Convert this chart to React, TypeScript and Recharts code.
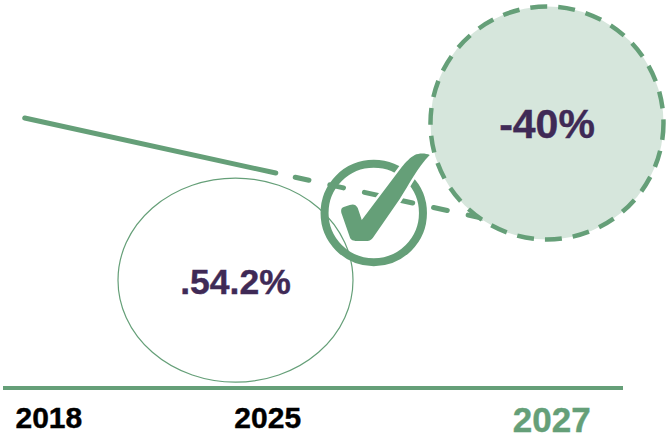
import React from "react";
import { ComposedChart, Line, Scatter, XAxis, YAxis } from "recharts";

const GREEN = "#659f78";
const PURPLE = "#3f2a56";
const PALE = "#d6e6dc";

// Timeline positions are on a 0-100 axis: the years are not evenly spaced.
const yearLabels = ["2018", "2025", "2027"];
const yearSlots = [7.4, 42.7, 88.5];

const actualSlots = [3.5, 44.0];
const actualValues = [69.6, 55.4];
const projectedSlots = [44.0, 77.8];
const projectedValues = [55.4, 43.6];

const actualTrend = actualSlots.map((t, i) => ({ t, v: actualValues[i] }));
const projectedTrend = projectedSlots.map((t, i) => ({ t, v: projectedValues[i] }));

const baseBubble = [{ t: 37.5, v: 27.8, label: ".54.2%" }];
const targetBubble = [{ t: 87.74, v: 68.3, label: "-40%" }];
const checkBadge = [{ t: 59.8, v: 45.1 }];

const FONT = '"Liberation Sans", Arial, sans-serif';

const BaseShape = (p: any) => (
  <g>
    <ellipse cx={p.cx} cy={p.cy} rx={117.5} ry={102} fill="none" stroke={GREEN} strokeWidth={1.2} />
    <text
      x={p.cx}
      y={p.cy + 14}
      textAnchor="middle"
      fontFamily={FONT}
      fontWeight={700}
      fontSize={35.5}
      fill={PURPLE}
      stroke={PURPLE}
      strokeWidth={0.4}
    >
      {p.payload.label}
    </text>
  </g>
);

const TargetShape = (p: any) => (
  <g>
    <circle cx={p.cx} cy={p.cy} r={116.5} fill={PALE} stroke={GREEN} strokeWidth={4.5} strokeDasharray="17 11" />
    <text
      x={p.cx}
      y={p.cy + 15}
      textAnchor="middle"
      fontFamily={FONT}
      fontWeight={700}
      fontSize={41}
      fill={PURPLE}
      stroke={PURPLE}
      strokeWidth={0.4}
    >
      {p.payload.label}
    </text>
  </g>
);

const CheckShape = (p: any) => (
  <g transform={`translate(${p.cx},${p.cy})`}>
    <circle r={49.2} fill="none" stroke={GREEN} strokeWidth={8} />
    <path
      d="M56,-58 C52,-60 45,-60 41,-58 C37,-56 32,-51 28,-46 L-12,7 L-16,-5 C-18,-9 -21,-9 -24,-8 L-30,-6 C-33,-5 -33,-2 -32,1 L-24,24 C-23,27.5 -20,28 -17,28 L-8,28 C-5,28 -3,27.5 -1,25 L26,-14 C35,-28 44,-46 56,-58 Z"
      fill={GREEN}
      stroke="#ffffff"
      strokeWidth={5}
      paintOrder="stroke"
    />
  </g>
);

const YearTick = (p: any) => {
  const index = yearSlots.indexOf(p.payload.value);
  const highlighted = index === yearLabels.length - 1;
  return (
    <text
      x={p.x}
      y={highlighted ? 431.5 : 428}
      textAnchor="middle"
      fontFamily={FONT}
      fontWeight={700}
      fontSize={highlighted ? 35 : 30}
      fill={highlighted ? GREEN : "#000000"}
      stroke={highlighted ? GREEN : "#000000"}
      strokeWidth={0.4}
    >
      {yearLabels[index]}
    </text>
  );
};

export default function App() {
  return (
    <div style={{ position: "absolute", left: 0, top: 0 }}>
      <ComposedChart width={668} height={439} margin={{ top: 0, right: 45, bottom: 0, left: 3 }}>
        <XAxis
          type="number"
          dataKey="t"
          domain={[0, 100]}
          ticks={yearSlots}
          interval={0}
          height={51}
          tick={YearTick}
          tickLine={false}
          axisLine={{ stroke: GREEN, strokeWidth: 4 }}
        />
        <YAxis type="number" dataKey="v" domain={[0, 100]} hide />
        <Scatter data={baseBubble} dataKey="v" shape={BaseShape} isAnimationActive={false} />
        <Line
          data={actualTrend}
          dataKey="v"
          stroke={GREEN}
          strokeWidth={5}
          strokeLinecap="round"
          dot={false}
          isAnimationActive={false}
        />
        <Scatter data={targetBubble} dataKey="v" shape={TargetShape} isAnimationActive={false} />
        <Line
          data={projectedTrend}
          dataKey="v"
          stroke={GREEN}
          strokeWidth={5}
          strokeLinecap="round"
          strokeDasharray="14 21.4"
          strokeDashoffset={-19.9}
          dot={false}
          isAnimationActive={false}
        />
        <Scatter data={checkBadge} dataKey="v" shape={CheckShape} isAnimationActive={false} />
      </ComposedChart>
    </div>
  );
}
